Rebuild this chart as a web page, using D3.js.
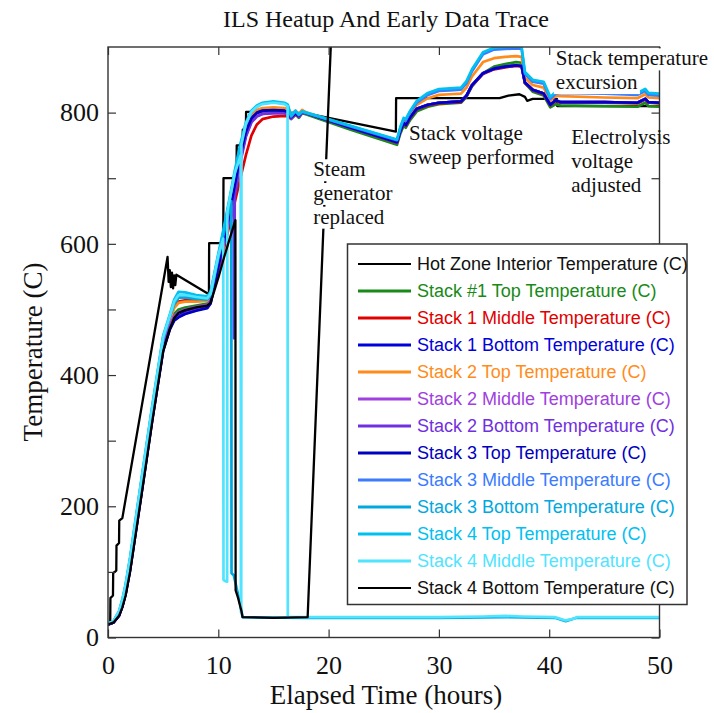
<!DOCTYPE html>
<html>
<head>
<meta charset="utf-8">
<script src="https://cdn.jsdelivr.net/npm/d3@7"></script>
<style>
  body { margin: 0; background: #fff; }
</style>
</head>
<body>
<svg id="chart" width="714" height="713"></svg>
<script>
// ---- data (hours, degC) ----
const seriesNames = [
  "Hot Zone Interior Temperature (C)",
  "Stack #1 Top Temperature (C)",
  "Stack 1 Middle Temperature (C)",
  "Stack 1 Bottom Temperature (C)",
  "Stack 2 Top Temperature (C)",
  "Stack 2 Middle Temperature (C)",
  "Stack 2 Bottom Temperature (C)",
  "Stack 3 Top Temperature (C)",
  "Stack 3 Middle Temperature (C)",
  "Stack 3 Bottom Temperature (C)",
  "Stack 4 Top Temperature (C)",
  "Stack 4 Middle Temperature (C)",
  "Stack 4 Bottom Temperature (C)"
];
const seriesColors = [
  "#000000", "#178a17", "#e00000", "#0000dd", "#ff8c1a", "#a040e0", "#7030e0",
  "#0000c0", "#3a7bff", "#00a8e0", "#00c0f0", "#50e4ff", "#000000"
];

const hotZone = [[0,20],[0.2,21],[0.22,60],[0.45,64],[0.47,98],[0.75,102],[0.77,140],[1.0,144],[1.02,178],[1.3,182],
  [2.0,250],[3.0,347],[4.0,444],[5.0,541],[5.4,580],[5.5,542],[5.6,560],[5.7,534],[5.8,556],[5.9,532],[6.0,552],[6.1,537],[6.2,553],
  [9.15,523],[9.17,601],[10.45,601],[10.47,700],[11.65,700],[11.67,750],[12.2,750],[12.22,774],[12.5,774],[12.52,801],
  [14.0,801],[16.0,800],[18.0,799],[22.0,785],[26.1,771],[26.12,822],[30.0,822],[35.5,822],[36.3,826],[37.3,828],[37.8,824],
  [38.0,818],[38.5,821],[40.7,821],[40.72,810],[50.0,810]];

const stack1Top = [[0,20],[0.5,23],[1.0,35],[1.3,50],[1.6,71],[2.0,108],[3.0,222],[4.0,337],[5.0,444],[5.6,477],[6.0,493],[6.4,500],
  [7.0,503],[8.0,506],[9.0,509],[9.3,516],[10.0,573],[10.5,611],[11.0,652],[11.5,696],[12.0,740],[12.5,774],[13.0,792],[13.5,799],
  [14.0,801],[15.0,802],[16.0,801],[16.3,799],[16.6,790],[17.0,797],[17.3,792],[17.6,799],[18.0,797],[22.0,774],[26.2,751],
  [26.5,768],[26.8,780],[27.0,777],[27.4,789],[28.0,802],[29.0,809],[30.0,813],[31.0,814],[32.0,815],[32.5,824],[33.0,840],
  [34.0,860],[35.0,870],[36.0,874],[37.0,877],[37.5,876],[37.8,845],[38.5,832],[39.5,826],[40.1,808],[40.6,813],[41.0,811],
  [45.0,810],[48.0,809],[48.7,815],[49.0,810],[50.0,809]];

const stack1Middle = [[0,20],[0.5,23],[1.0,35],[1.3,50],[1.6,71],[2.0,108],[3.0,223],[4.0,338],[5.0,446],[5.6,485],[6.0,505],[6.4,512],
  [7.0,514],[8.0,515],[9.0,516],[9.3,518],[10.0,560],[10.5,592],[11.0,628],[11.5,664],[12.0,700],[12.5,735],[13.0,765],[13.5,782],
  [14.0,790],[15.0,794],[16.0,795],[16.3,794],[16.6,791],[17.0,797],[17.3,794],[17.6,800],[18.0,799],[22.0,777],[26.2,754],
  [26.5,771],[26.8,783],[27.0,780],[27.4,792],[28.0,805],[29.0,811],[30.0,814],[31.0,815],[32.0,816],[32.5,825],[33.0,841],
  [34.0,859],[35.0,866],[36.0,869],[37.0,871],[37.5,870],[37.8,845],[38.5,834],[39.5,828],[40.1,811],[40.6,818],[41.0,815],
  [45.0,815],[48.0,814],[48.7,820],[49.0,815],[50.0,814]];

const stack1Bottom = [[0,20],[0.5,23],[1.0,34],[1.3,48],[1.6,68],[2.0,105],[3.0,218],[4.0,333],[5.0,440],[5.6,472],[6.0,486],[6.4,491],
  [7.0,496],[8.0,501],[9.0,505],[9.3,512],[10.0,568],[10.5,606],[11.0,648],[11.5,692],[12.0,738],[12.5,772],[13.0,792],[13.5,800],
  [14.0,803],[15.0,804],[16.0,803],[16.3,801],[16.6,793],[17.0,799],[17.3,795],[17.6,801],[18.0,799],[22.0,777],[26.2,755],
  [26.5,772],[26.8,784],[27.0,781],[27.4,793],[28.0,806],[29.0,812],[30.0,815],[31.0,816],[32.0,817],[32.5,826],[33.0,842],
  [34.0,860],[35.0,867],[36.0,870],[37.0,872],[37.5,871],[37.8,846],[38.5,835],[39.5,829],[40.1,812],[40.6,819],[41.0,816],
  [45.0,816],[48.0,815],[48.7,821],[49.0,816],[50.0,815]];

const stack2Top = [[0,20],[0.5,24],[1.0,37],[1.3,53],[1.6,75],[2.0,113],[3.0,228],[4.0,343],[5.0,450],[5.6,483],[6.0,502],[6.4,510],
  [7.0,512],[8.0,512],[9.0,513],[9.3,520],[10.0,578],[10.5,617],[11.0,659],[11.5,703],[12.0,746],[12.5,779],[13.0,797],[13.5,804],
  [14.0,807],[15.0,808],[16.0,807],[16.3,805],[16.6,797],[17.0,803],[17.3,798],[17.6,804],[18.0,800],[22.0,779],[26.2,757],
  [26.5,776],[26.8,790],[27.0,786],[27.4,798],[28.0,812],[29.0,822],[30.0,827],[31.0,828],[32.0,829],[32.5,838],[33.0,855],
  [34.0,877],[35.0,883],[36.0,885],[37.0,886],[37.5,885],[37.8,853],[38.5,842],[39.5,838],[40.1,818],[40.6,826],[41.0,825],
  [45.0,823],[48.0,822],[48.7,828],[49.0,823],[50.0,822]];

const stack2Middle = [[0,20],[0.5,23],[1.0,34],[1.3,49],[1.6,69],[2.0,106],[3.0,220],[4.0,335],[5.0,442],[5.6,475],[6.0,490],[6.4,496],
  [7.0,500],[8.0,504],[9.0,507],[9.3,513],[10.0,566],[10.5,602],[11.0,642],[11.5,684],[12.0,728],[12.5,765],[13.0,786],[13.5,795],
  [14.0,798],[15.0,799],[16.0,799],[16.3,798],[16.6,791],[17.0,798],[17.3,794],[17.6,800],[18.0,799],[22.0,777],[26.2,755],
  [26.5,772],[26.8,784],[27.0,781],[27.4,793],[28.0,806],[29.0,812],[30.0,815],[31.0,816],[32.0,817],[32.5,826],[33.0,842],
  [34.0,860],[35.0,867],[36.0,870],[37.0,872],[37.5,871],[37.8,846],[38.5,835],[39.5,829],[40.1,812],[40.6,819],[41.0,816],
  [45.0,816],[48.0,815],[48.7,821],[49.0,816],[50.0,815]];

const stack2Bottom = [[0,20],[0.5,23],[1.0,33],[1.3,47],[1.6,67],[2.0,103],[3.0,216],[4.0,331],[5.0,438],[5.6,470],[6.0,484],[6.4,489],
  [7.0,494],[8.0,499],[9.0,503],[9.3,509],[10.0,562],[10.5,598],[11.0,636],[11.4,668],[11.42,456],[11.47,462],[11.49,672],
  [12.0,724],[12.5,763],[13.0,785],[13.5,794],[14.0,798],[15.0,799],[16.0,799],[16.3,797],[16.6,791],[17.0,798],[17.3,794],
  [17.6,800],[18.0,799],[22.0,777],[26.2,755],[26.5,772],[26.8,784],[27.0,781],[27.4,793],[28.0,806],[29.0,812],[30.0,815],
  [31.0,816],[32.0,817],[32.5,826],[33.0,842],[34.0,860],[35.0,867],[36.0,870],[37.0,872],[37.5,871],[37.8,846],[38.5,835],
  [39.5,829],[40.1,812],[40.6,819],[41.0,816],[45.0,816],[48.0,815],[48.7,821],[49.0,816],[50.0,815]];

const stack3Top = [[0,20],[0.5,23],[1.0,33],[1.3,47],[1.6,66],[2.0,102],[3.0,215],[4.0,330],[5.0,437],[5.6,469],[6.0,483],[6.4,488],
  [7.0,493],[8.0,498],[9.0,502],[9.3,509],[10.0,565],[10.5,604],[11.0,646],[11.5,690],[12.0,736],[12.5,771],[13.0,791],[13.5,800],
  [14.0,803],[15.0,804],[16.0,803],[16.3,801],[16.6,793],[17.0,799],[17.3,795],[17.6,801],[18.0,799],[22.0,777],[26.2,755],
  [26.5,772],[26.8,784],[27.0,781],[27.4,793],[28.0,806],[29.0,812],[30.0,815],[31.0,816],[32.0,817],[32.5,826],[33.0,842],
  [34.0,860],[35.0,867],[36.0,870],[37.0,872],[37.5,871],[37.8,846],[38.5,835],[39.5,829],[40.1,812],[40.6,819],[41.0,816],
  [45.0,816],[48.0,815],[48.7,821],[49.0,816],[50.0,815]];

const stack3Middle = [[0,21],[0.5,25],[1.0,39],[1.3,56],[1.6,79],[2.0,119],[3.0,235],[4.0,349],[5.0,457],[5.6,489],[6.0,511],[6.4,522],
  [7.0,522],[8.0,519],[9.0,517],[9.3,524],[10.0,582],[10.5,621],[11.0,664],[11.5,708],[12.0,749],[12.5,782],[13.0,801],[13.5,809],
  [14.0,814],[15.0,816],[16.0,814],[16.3,810],[16.6,794],[17.0,802],[17.3,796],[17.6,801],[18.0,799],[22.0,779],[26.2,758],
  [26.5,776],[26.8,790],[27.0,788],[27.4,801],[28.0,815],[29.0,827],[30.0,833],[31.0,834],[32.0,835],[32.5,845],[33.0,863],
  [34.0,889],[35.0,896],[36.0,897],[37.0,898],[37.5,897],[37.8,859],[38.5,847],[39.5,844],[40.1,821],[40.6,829],[41.0,830],
  [45.0,829],[48.0,827],[48.7,833],[49.0,827],[50.0,826]];

const stack3Bottom = [[0,21],[0.5,24],[1.0,39],[1.3,56],[1.6,78],[2.0,118],[3.0,233],[4.0,347],[5.0,455],[5.6,488],[6.0,508],[6.4,518],
  [7.0,518],[8.0,516],[9.0,515],[9.3,521],[10.0,578],[10.5,616],[11.0,652],[11.18,665],[11.2,98],[11.4,95],[11.6,80],[12.0,50],
  [12.2,31],[18.0,30],[25.0,30],[30.0,30],[36.0,31],[40.5,30],[41.5,25],[42.5,30],[50.0,30]];

const stack4Top = [[0,21],[0.5,25],[1.0,40],[1.3,58],[1.6,82],[2.0,122],[3.0,238],[4.0,352],[5.0,460],[5.6,492],[6.0,515],[6.4,527],
  [7.0,526],[8.0,522],[9.0,520],[9.3,527],[10.0,585],[10.5,625],[11.0,668],[11.5,712],[12.0,752],[12.5,785],[13.0,803],[13.5,811],
  [14.0,815],[15.0,817],[16.0,815],[16.3,812],[16.6,795],[17.0,803],[17.3,797],[17.6,802],[18.0,800],[22.0,780],[26.2,759],
  [26.5,778],[26.8,792],[27.0,790],[27.4,803],[28.0,818],[29.0,830],[30.0,836],[31.0,837],[32.0,838],[32.5,848],[33.0,866],
  [34.0,892],[35.0,899],[36.0,900],[37.0,901],[37.5,900],[37.8,862],[38.5,850],[39.5,847],[40.1,824],[40.6,832],[41.0,833],
  [45.0,832],[48.0,830],[48.7,836],[49.0,830],[50.0,829]];

const stack4Middle = [[0,21],[0.5,25],[1.0,40],[1.3,57],[1.6,80],[2.0,120],[3.0,236],[4.0,350],[5.0,458],[5.6,490],[6.0,512],[6.4,522],
  [7.0,522],[8.0,519],[9.0,517],[9.3,524],[10.0,582],[10.45,608],[10.47,88],[10.6,86],[10.8,85],[10.82,648],[11.0,665],
  [11.5,708],[12.03,735],[12.05,39],[12.08,40],[12.1,752],[12.5,783],[13.0,801],[13.5,809],[14.0,813],[15.0,815],[16.0,813],
  [16.28,810],[16.3,31],[18.0,31],[25.0,31],[30.0,31],[34.0,32],[36.0,33],[37.5,32],[40.5,31],[41.5,26],[42.3,29],[42.5,31],
  [50.0,31]];

const stack4Bottom = [[0,20],[0.5,23],[1.0,33],[1.3,46],[1.6,64],[2.0,100],[3.0,213],[4.0,328],[5.0,436],[5.6,470],[6.0,487],[6.4,495],
  [7.0,499],[8.0,503],[9.0,506],[9.3,510],[10.0,548],[10.5,578],[11.0,606],[11.55,636],[11.57,72],[11.8,60],[12.1,40],[12.2,31],
  [15.0,30],[18.1,31],[20.2,902],[20.4,950],[50.0,950]];

const allSeries = [hotZone, stack1Top, stack1Middle, stack1Bottom, stack2Top, stack2Middle, stack2Bottom,
  stack3Top, stack3Middle, stack3Bottom, stack4Top, stack4Middle, stack4Bottom];

const xTicks = [0, 10, 20, 30, 40, 50];
const yTicks = [0, 100, 200, 300, 400, 500, 600, 700, 800];
const yLabelled = [0, 200, 400, 600, 800];

// annotations anchored in data units (hours, degC) at the first line's baseline
const notes = [
  { t: 18.6, v: 703, lines: ["Steam", "generator", "replaced"], bg: true },
  { t: 27.3, v: 758, lines: ["Stack voltage", "sweep performed"], bg: false },
  { t: 40.6, v: 872, lines: ["Stack temperature", "excursion"], bg: true },
  { t: 42.0, v: 752, lines: ["Electrolysis", "voltage", "adjusted"], bg: false }
];

// ---- drawing ----
const serif = "'Liberation Serif', 'Times New Roman', serif";
const sans = "'Liberation Sans', Arial, sans-serif";

const svg = d3.select("#chart");
const x = d3.scaleLinear().domain([0, 50]).range([108, 659.5]);
const y = d3.scaleLinear().domain([0, 900]).range([637.5, 47]);

svg.append("defs").append("clipPath").attr("id", "plotClip")
  .append("rect")
  .attr("x", x(0)).attr("y", y(900))
  .attr("width", x(50) - x(0)).attr("height", y(0) - y(900));

const line = d3.line().x(d => x(d[0])).y(d => y(d[1]));

svg.append("g")
  .attr("clip-path", "url(#plotClip)")
  .selectAll("path")
  .data(allSeries)
  .join("path")
  .attr("d", line)
  .attr("fill", "none")
  .attr("stroke", (d, i) => seriesColors[i])
  .attr("stroke-width", (d, i) => seriesColors[i] === "#000000" ? 2.3 : 2.7)
  .attr("stroke-linejoin", "round");

// frame + inward ticks
const styleAxis = g => {
  g.select(".domain").remove();
  g.selectAll(".tick line").attr("stroke", "#333").attr("stroke-width", 1.2);
  g.selectAll("text").attr("font-family", serif).attr("font-size", 26).attr("fill", "#111");
};

svg.append("g").attr("transform", `translate(0,${y(0)})`)
  .call(d3.axisBottom(x).tickValues(xTicks).tickSize(-8).tickPadding(18.5).tickFormat(d3.format("d")))
  .call(styleAxis);
svg.append("g").attr("transform", `translate(0,${y(900)})`)
  .call(d3.axisTop(x).tickValues(xTicks).tickSize(-8).tickFormat(""))
  .call(styleAxis);
svg.append("g").attr("transform", `translate(${x(0)},0)`)
  .call(d3.axisLeft(y).tickValues(yTicks).tickSize(-8).tickPadding(9)
    .tickFormat(d => yLabelled.includes(d) ? d : ""))
  .call(styleAxis);
svg.append("g").attr("transform", `translate(${x(50)},0)`)
  .call(d3.axisRight(y).tickValues(yTicks).tickSize(-8).tickFormat(""))
  .call(styleAxis);

svg.append("rect")
  .attr("x", x(0)).attr("y", y(900))
  .attr("width", x(50) - x(0)).attr("height", y(0) - y(900))
  .attr("fill", "none").attr("stroke", "#333").attr("stroke-width", 1.4);

// titles
svg.append("text")
  .attr("x", 386).attr("y", 27)
  .attr("text-anchor", "middle")
  .attr("font-family", serif).attr("font-size", 24).attr("fill", "#111")
  .text("ILS Heatup And Early Data Trace");

svg.append("text")
  .attr("x", 386).attr("y", 704)
  .attr("text-anchor", "middle")
  .attr("font-family", serif).attr("font-size", 27).attr("fill", "#111")
  .text("Elapsed Time (hours)");

svg.append("text")
  .attr("transform", "translate(42,352) rotate(-90)")
  .attr("text-anchor", "middle")
  .attr("font-family", serif).attr("font-size", 27).attr("fill", "#111")
  .text("Temperature (C)");

// annotations
notes.forEach(n => {
  const g = svg.append("g");
  n.lines.forEach((s, k) => {
    const t = g.append("text")
      .attr("x", x(n.t)).attr("y", y(n.v) + k * 23.7)
      .attr("font-family", serif).attr("font-size", 21).attr("fill", "#111")
      .text(s);
    if (n.bg) {
      const b = t.node().getBBox();
      g.insert("rect", "text")
        .attr("x", b.x - 2).attr("y", b.y + 2)
        .attr("width", b.width + 4).attr("height", b.height - 2)
        .attr("fill", "#fff");
    }
  });
});

// legend
const legend = svg.append("g");
legend.append("rect")
  .attr("x", 347.5).attr("y", 244)
  .attr("width", 339.5).attr("height", 360.5)
  .attr("fill", "#fff").attr("stroke", "#333").attr("stroke-width", 1.5);

const rows = legend.selectAll("g.row")
  .data(seriesNames)
  .join("g")
  .attr("class", "row")
  .attr("transform", (d, i) => `translate(0,${264 + i * 27})`);

rows.append("line")
  .attr("x1", 358).attr("x2", 411)
  .attr("stroke", (d, i) => seriesColors[i])
  .attr("stroke-width", (d, i) => seriesColors[i] === "#000000" ? 2 : 3);

rows.append("text")
  .attr("x", 417).attr("dy", "0.36em")
  .attr("font-family", sans).attr("font-size", 18)
  .attr("fill", (d, i) => seriesColors[i] === "#000000" ? "#111" : seriesColors[i])
  .text(d => d);
</script>
</body>
</html>
